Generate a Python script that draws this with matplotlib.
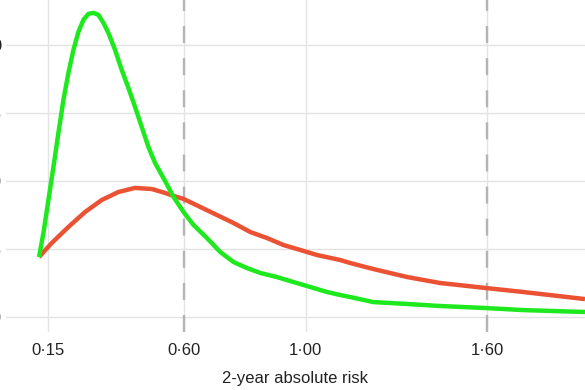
import matplotlib
matplotlib.use("Agg")
import matplotlib.pyplot as plt

plt.rcParams['font.family'] = ['Liberation Sans', 'DejaVu Sans']

# Data
green_x = [0.120, 0.1345, 0.151, 0.1675, 0.184, 0.2005, 0.217, 0.2335, 0.250, 0.2665,
           0.283, 0.2995, 0.316, 0.3325, 0.349, 0.371, 0.393, 0.415, 0.437, 0.459,
           0.481, 0.503, 0.536, 0.564, 0.597, 0.630, 0.674, 0.718, 0.762, 0.806,
           0.850, 0.905, 0.960, 1.015, 1.070, 1.114, 1.147, 1.223, 1.335, 1.444,
           1.596, 1.718, 1.922]
green_y = [0.441, 0.618, 0.860, 1.103, 1.353, 1.596, 1.794, 1.963, 2.096, 2.184,
           2.228, 2.235, 2.221, 2.162, 2.088, 1.963, 1.816, 1.684, 1.544, 1.397,
           1.250, 1.132, 1.000, 0.882, 0.772, 0.676, 0.581, 0.478, 0.404, 0.360,
           0.324, 0.294, 0.257, 0.221, 0.184, 0.162, 0.147, 0.110, 0.096, 0.081,
           0.066, 0.051, 0.037]

red_x = [0.120, 0.162, 0.217, 0.272, 0.327, 0.382, 0.437, 0.492, 0.536, 0.564,
         0.597, 0.652, 0.707, 0.762, 0.817, 0.872, 0.927, 0.982, 1.037, 1.114,
         1.147, 1.223, 1.335, 1.444, 1.596, 1.718, 1.922]
red_y = [0.441, 0.544, 0.662, 0.772, 0.860, 0.919, 0.949, 0.941, 0.912, 0.890,
         0.868, 0.809, 0.750, 0.691, 0.625, 0.581, 0.529, 0.493, 0.456, 0.419,
         0.397, 0.353, 0.294, 0.250, 0.213, 0.184, 0.132]

x_ticks = [0.15, 0.60, 1.00, 1.60]
x_tick_labels = ["0·15", "0·60", "1·00", "1·60"]
y_ticks = [0.0, 0.5, 1.0, 1.5, 2.0]
y_tick_labels = ["0·0", "0·5", "1·0", "1·5", "2·0"]
cutoffs = [0.60, 1.60]
x_label = "2-year absolute risk"

W, H = 585, 390
fig = plt.figure(figsize=(W / 100, H / 100), dpi=100)
left_px, right_px, top_px, bottom_px = 6, 585, 0, 332
ax = fig.add_axes([left_px / W, (H - bottom_px) / H,
                   (right_px - left_px) / W, (bottom_px - top_px) / H])

ax.set_xlim(0.011, 1.922)
ax.set_ylim(-0.11, 2.33)

ax.set_xticks(x_ticks)
ax.set_xticklabels(x_tick_labels)
ax.set_yticks(y_ticks)
ax.set_yticklabels(y_tick_labels)
ax.tick_params(axis='both', length=0, labelsize=12, colors='#222222')
ax.tick_params(axis='x', pad=8)
ax.tick_params(axis='y', pad=3)

ax.grid(True, color='#e3e3e3', linewidth=1.0)
ax.set_axisbelow(True)
for s in ax.spines.values():
    s.set_visible(False)

for c in cutoffs:
    ax.axvline(c, color='#b4b4b4', linewidth=1.7, linestyle=(0, (7.2, 6.4)), zorder=1)

ax.plot(red_x, red_y, color='#eb5234', linewidth=3.2, zorder=3,
        solid_capstyle='butt', solid_joinstyle='round')
ax.plot(green_x, green_y, color='#1ee81e', linewidth=3.2, zorder=4,
        solid_capstyle='butt', solid_joinstyle='round')

ax.set_xlabel(x_label, fontsize=12, color='#222222', labelpad=9)

fig.savefig("out.png", dpi=100)
